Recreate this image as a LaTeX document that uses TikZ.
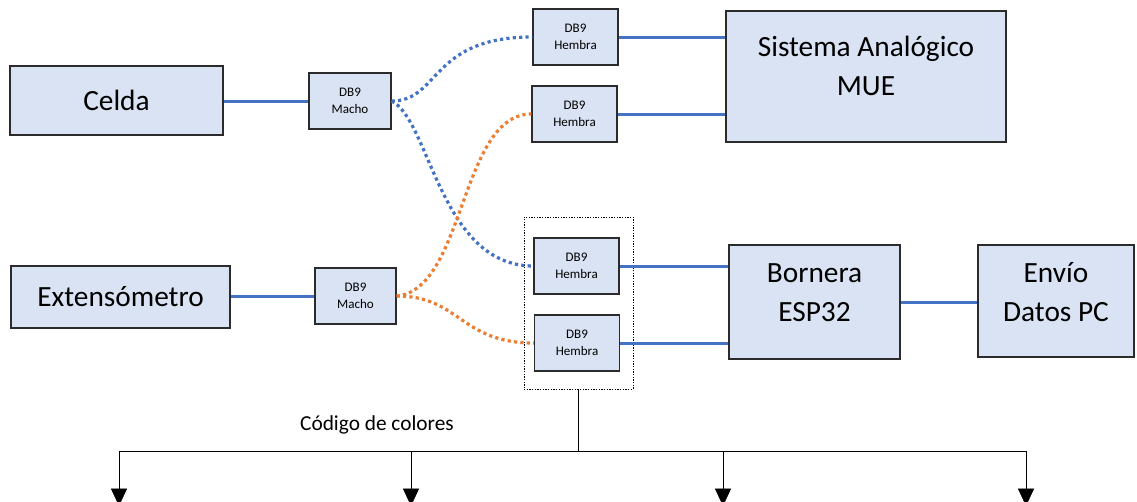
\documentclass[tikz,border=0pt]{standalone}
\usepackage{fontspec}
\setmainfont{Carlito}
\usetikzlibrary{arrows.meta}
\definecolor{relleno}{HTML}{DAE3F3}
\definecolor{azul}{HTML}{4472C4}
\definecolor{naranja}{HTML}{ED7D31}
\definecolor{borde}{HTML}{2B2B2B}

\begin{document}
\begin{tikzpicture}[x=0.75pt, y=-0.75pt,
	caja/.style={draw=borde, fill=relleno, line width=0.9pt, align=center, inner sep=0pt, font=\fontsize{22}{29}\selectfont},
	db/.style={draw=borde, fill=relleno, line width=0.9pt, align=center, inner sep=0pt, minimum width=63.75pt, minimum height=42pt, font=\fontsize{9.8}{13}\selectfont},
	cable/.style={azul, line width=2.25pt},
	punteado/.style={line width=2.4pt, dash pattern=on 2.4pt off 2.4pt}]
			\useasboundingbox (0,0) rectangle (1137,501);
			\clip (0,0) rectangle (1137,501);
			
			%sensores
			\node (celda) at (116.5,100.5) [caja, minimum width=159.75pt, minimum height=51.75pt]{Celda};
			\node (exten) at (120.5,297) [caja, minimum width=164.25pt, minimum height=46.5pt]{Extensómetro};
			\node (machoA) at (350,101) [db, minimum width=61.5pt]{DB9\\Macho};
			\node (machoB) at (355.5,296) [db, minimum width=60.75pt]{DB9\\Macho};
			
			%hembras
			\node (hembraA) at (575.5,37) [db]{DB9\\Hembra};
			\node (hembraB) at (574.5,114) [db]{DB9\\Hembra};
			\node (grupo) at (578.5,303) [draw, line width=0.75pt, dash pattern=on 1pt off 1pt, minimum width=81.75pt, minimum height=129pt]{};
			\node (hembraC) at (576.5,266) [db]{DB9\\Hembra};
			\node (hembraD) at (577,343) [db]{DB9\\Hembra};
			
			%destinos
			\node (mue) at (866,76.5) [caja, minimum width=210pt, minimum height=98.25pt, text depth=16pt]{Sistema Analógico\\MUE};
			\node (bornera) at (814.5,302) [caja, minimum width=128.25pt, minimum height=85.5pt, text depth=14pt]{Bornera\\ESP32};
			\node (envio) at (1056,301) [caja, minimum width=117pt, minimum height=84pt, text depth=14pt]{Envío\\Datos PC};
			
			\draw[cable] (machoA.west -| celda.east) -- (machoA.west);
			\draw[cable] (machoB.west -| exten.east) -- (machoB.west);
			\draw[cable] (hembraA.east) -- (hembraA.east -| mue.west);
			\draw[cable] (hembraB.east) -- (hembraB.east -| mue.west);
			\draw[cable] (hembraC.east) -- (hembraC.east -| bornera.west);
			\draw[cable] (hembraD.east) -- (hembraD.east -| bornera.west);
			\draw[cable] (bornera.east) -- (bornera.east -| envio.west);
			
			%cables punteados
			\draw[punteado, azul] (machoA.east) .. controls (440,101) and (430,37) .. (hembraA.west);
			\draw[punteado, azul] (machoA.east) .. controls (430,120) and (440,266) .. (hembraC.west);
			\draw[punteado, naranja] (machoB.east) .. controls (465,290) and (460,114) .. (hembraB.west);
			\draw[punteado, naranja] (machoB.east) .. controls (460,296) and (460,343) .. (hembraD.west);
			
			%codigo de colores
			\coordinate (rama) at (grupo.south |- 0,451);
			\draw[thin] (grupo.south) -- (rama);
			\node (codigo) at (377,430) [anchor=base, font=\fontsize{16}{19}\selectfont]{Código de colores};
			\coordinate (izq) at (119,451);
			\coordinate (der) at (1026,451);
			\draw[thin] (izq) -- (der);
			\foreach \x/\n in {119/a, 411/b, 723/c, 1026/d}{
				\coordinate (sale\n) at (\x,451);
				\coordinate (llega\n) at (\x,506);
				\draw[thin, -{Triangle[width=12pt, length=13pt]}] (sale\n) -- (llega\n);
			}
		\end{tikzpicture}
\end{document}
